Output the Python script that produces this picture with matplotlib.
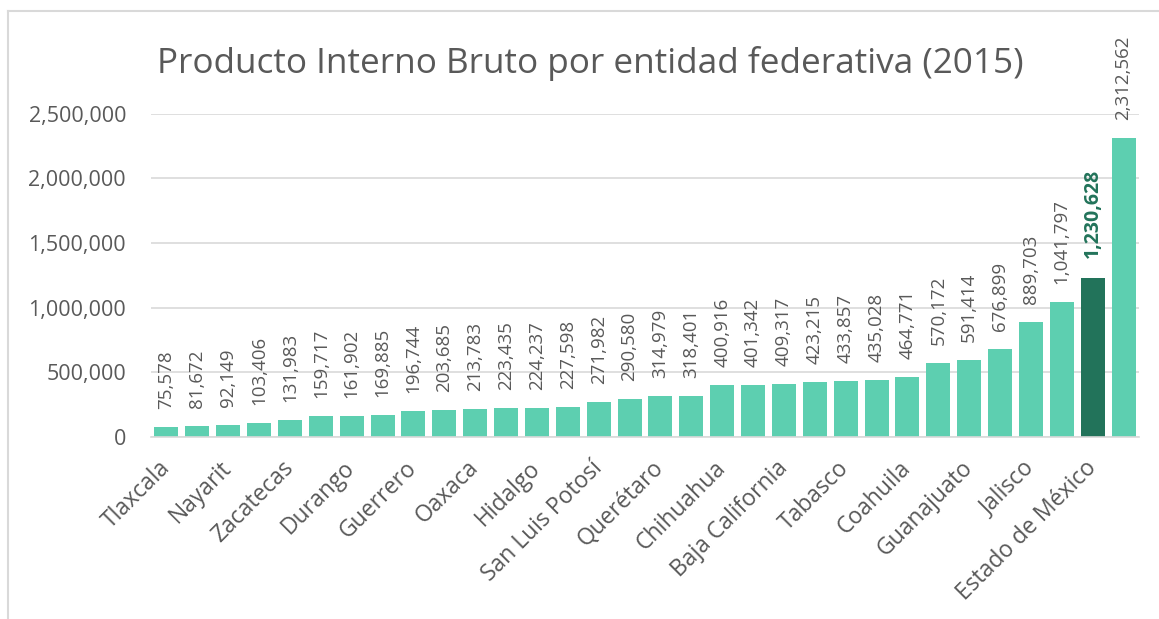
import matplotlib.pyplot as plt
from matplotlib.lines import Line2D

# Datos: PIB por entidad federativa (2015), ordenado de menor a mayor.
entidades = ['Tlaxcala', 'Colima', 'Nayarit', 'Baja California Sur', 'Zacatecas',
             'Morelos', 'Durango', 'Aguascalientes', 'Guerrero', 'Quintana Roo',
             'Oaxaca', 'Yucatán', 'Hidalgo', 'Chiapas', 'San Luis Potosí', 'Sinaloa',
             'Querétaro', 'Campeche', 'Chihuahua', 'Michoacán', 'Baja California',
             'Sonora', 'Tabasco', 'Tamaulipas', 'Coahuila', 'Puebla', 'Guanajuato',
             'Veracruz', 'Jalisco', 'Nuevo León', 'Estado de México', 'Ciudad de México']
pib = [75578, 81672, 92149, 103406, 131983, 159717, 161902, 169885, 196744, 203685,
       213783, 223435, 224237, 227598, 271982, 290580, 314979, 318401, 400916, 401342,
       409317, 423215, 433857, 435028, 464771, 570172, 591414, 676899, 889703, 1041797,
       1230628, 2312562]
destacado = 'Estado de México'
y_ticks = [0, 500000, 1000000, 1500000, 2000000, 2500000]

color_barra = '#5DCFB0'
color_destacado = '#22735A'
gris_texto = '#595959'
gris_linea = '#D9D9D9'

plt.rcParams['font.family'] = ['Open Sans', 'DejaVu Sans']

fig = plt.figure(figsize=(11.59, 6.19), dpi=100)
ax = fig.add_axes([0.1303, 0.2945, 0.8524, 0.5218])

x = list(range(len(entidades)))
colores = [color_destacado if e == destacado else color_barra for e in entidades]
ax.bar(x, pib, width=0.777, color=colores, zorder=3)

# Etiquetas de valor encima de cada barra
for i, v in enumerate(pib):
    es_dest = entidades[i] == destacado
    ax.annotate(f'{v:,}', (i, v), xytext=(0, 20 if es_dest else 18),
                textcoords='offset pixels', rotation=90, ha='center', va='bottom',
                fontsize=14 if es_dest else 13.5,
                color=color_destacado if es_dest else gris_texto,
                fontweight='bold' if es_dest else 'normal', annotation_clip=False)

ax.set_xlim(-0.5, len(entidades) - 0.5)
ax.set_ylim(0, 2500000)
ax.set_yticks(y_ticks)
ax.set_yticklabels([f'{t:,}' for t in y_ticks])
ax.set_xticks(x[::2])
ax.set_xticklabels(entidades[::2], rotation=45, ha='right', va='center',
                   rotation_mode='anchor')

ax.tick_params(axis='y', length=0, pad=18, labelsize=15.5, labelcolor=gris_texto)
ax.tick_params(axis='x', length=0, pad=20, labelsize=16.5, labelcolor=gris_texto)
ax.grid(axis='y', color=gris_linea, linewidth=1.2, zorder=0)
for s in ['top', 'right', 'left']:
    ax.spines[s].set_visible(False)
ax.spines['bottom'].set_color(gris_linea)
ax.spines['bottom'].set_linewidth(1.2)
ax.spines['bottom'].set_zorder(4)

fig.text(0.509, 0.897, 'Producto Interno Bruto por entidad federativa (2015)',
         ha='center', va='center', fontsize=25.3, color=gris_texto)

# Borde del área del gráfico (solo visible arriba e izquierda)
fig.add_artist(Line2D([8 / 1159, 8 / 1159], [0, 1 - 11 / 619], color=gris_linea, linewidth=1.5))
fig.add_artist(Line2D([8 / 1159, 1], [1 - 11 / 619, 1 - 11 / 619], color=gris_linea, linewidth=1.5))

fig.savefig('out.png', dpi=100)
